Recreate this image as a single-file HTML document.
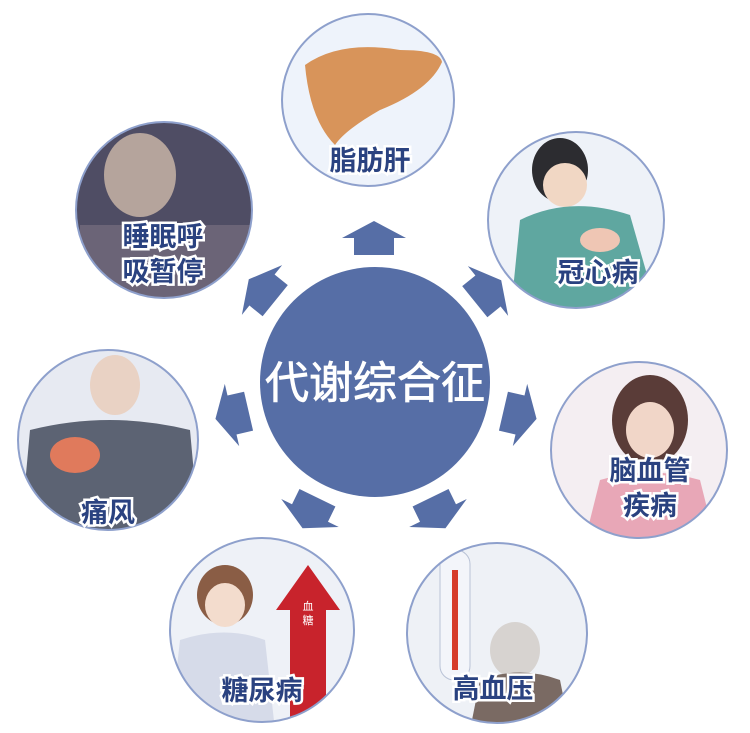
<!DOCTYPE html>
<html><head><meta charset="utf-8"><style>
html,body{margin:0;padding:0;background:#fff;}
svg{display:block}
.lb{font-family:"Liberation Sans","Noto Sans CJK SC",sans-serif;font-size:27px;font-weight:bold;fill:#2a4280;stroke:#fff;stroke-width:5px;paint-order:stroke;text-anchor:middle;}
</style></head><body>
<svg width="750" height="733" viewBox="0 0 750 733" xmlns="http://www.w3.org/2000/svg">
<defs>
<clipPath id="c1"><circle cx="368" cy="100" r="86"/></clipPath>
<clipPath id="c2"><circle cx="164" cy="210" r="88"/></clipPath>
<clipPath id="c3"><circle cx="576" cy="220" r="88"/></clipPath>
<clipPath id="c4"><circle cx="108" cy="440" r="90"/></clipPath>
<clipPath id="c5"><circle cx="639" cy="450" r="88"/></clipPath>
<clipPath id="c6"><circle cx="262" cy="630" r="92"/></clipPath>
<clipPath id="c7"><circle cx="497" cy="633" r="90"/></clipPath>
<polygon id="ar" points="-32,0 0,-17 32,0 20,0 20,17 -20,17 -20,0" fill="#566ea6"/>
</defs>

<circle cx="368" cy="100" r="86" fill="#eef3fb"/>
<g clip-path="url(#c1)">
<path d="M305 65 Q340 40 400 50 Q440 50 442 62 Q430 90 380 110 Q345 130 335 145 Q310 120 305 65Z" fill="#d8945a"/>
</g>
<circle cx="368" cy="100" r="86" fill="none" stroke="#8ea0cc" stroke-width="2"/>
<text class="lb" x="370" y="170">脂肪肝</text>

<circle cx="164" cy="210" r="88" fill="#4f4d64"/>
<g clip-path="url(#c2)">
<ellipse cx="140" cy="175" rx="36" ry="42" fill="#b5a49c"/>
<rect x="80" y="225" width="170" height="80" fill="#6b6477"/>
</g>
<circle cx="164" cy="210" r="88" fill="none" stroke="#8ea0cc" stroke-width="2"/>
<text class="lb" x="163" y="246">睡眠呼</text>
<text class="lb" x="163" y="281">吸暂停</text>

<circle cx="576" cy="220" r="88" fill="#eef2f8"/>
<g clip-path="url(#c3)">
<ellipse cx="560" cy="170" rx="28" ry="32" fill="#2c2c30"/>
<ellipse cx="565" cy="185" rx="22" ry="22" fill="#f1d7c4"/>
<path d="M510 320 L520 220 Q570 195 630 215 L660 320Z" fill="#5fa7a0"/>
<ellipse cx="600" cy="240" rx="20" ry="12" fill="#efc6b4"/>
</g>
<circle cx="576" cy="220" r="88" fill="none" stroke="#8ea0cc" stroke-width="2"/>
<text class="lb" x="598" y="282">冠心病</text>

<circle cx="108" cy="440" r="90" fill="#e7eaf2"/>
<g clip-path="url(#c4)">
<ellipse cx="115" cy="385" rx="25" ry="30" fill="#e9d2c4"/>
<path d="M20 540 L30 430 Q110 410 190 430 L200 540Z" fill="#5c6373"/>
<ellipse cx="75" cy="455" rx="25" ry="18" fill="#e07a5c"/>
</g>
<circle cx="108" cy="440" r="90" fill="none" stroke="#8ea0cc" stroke-width="2"/>
<text class="lb" x="108" y="522">痛风</text>

<circle cx="639" cy="450" r="88" fill="#f4eef2"/>
<g clip-path="url(#c5)">
<ellipse cx="650" cy="420" rx="38" ry="45" fill="#5a3c38"/>
<ellipse cx="650" cy="430" rx="24" ry="28" fill="#f1d6c8"/>
<path d="M580 560 L600 480 Q650 465 700 480 L720 560Z" fill="#e8a7b7"/>
</g>
<circle cx="639" cy="450" r="88" fill="none" stroke="#8ea0cc" stroke-width="2"/>
<text class="lb" x="650" y="480">脑血管</text>
<text class="lb" x="650" y="515">疾病</text>

<circle cx="262" cy="630" r="92" fill="#eef1f7"/>
<g clip-path="url(#c6)">
<ellipse cx="225" cy="595" rx="28" ry="30" fill="#8a5d45"/>
<ellipse cx="225" cy="605" rx="20" ry="22" fill="#f3dccd"/>
<path d="M170 730 L180 640 Q225 625 265 640 L275 730Z" fill="#d6dbe9"/>
<polygon points="308,565 340,610 326,610 326,730 290,730 290,610 276,610" fill="#c8232c"/>
</g>
<circle cx="262" cy="630" r="92" fill="none" stroke="#8ea0cc" stroke-width="2"/>
<text x="308" y="610" font-family="Liberation Sans,Noto Sans CJK SC,sans-serif" font-size="11" fill="#fff" text-anchor="middle">血</text>
<text x="308" y="624" font-family="Liberation Sans,Noto Sans CJK SC,sans-serif" font-size="11" fill="#fff" text-anchor="middle">糖</text>
<text class="lb" x="262" y="700">糖尿病</text>

<circle cx="497" cy="633" r="90" fill="#eef1f6"/>
<g clip-path="url(#c7)">
<rect x="440" y="550" width="30" height="130" rx="14" fill="#f3f5fa" stroke="#b9c2d6"/>
<rect x="452" y="570" width="6" height="100" fill="#d63c2a"/>
<ellipse cx="515" cy="650" rx="25" ry="28" fill="#d7d3d0"/>
<path d="M470 730 L480 680 Q520 665 560 680 L570 730Z" fill="#7a6a63"/>
</g>
<circle cx="497" cy="633" r="90" fill="none" stroke="#8ea0cc" stroke-width="2"/>
<text class="lb" x="493" y="698">高血压</text>

<circle cx="375" cy="382" r="115" fill="#566ea6"/>
<text x="375" y="398" font-family="Liberation Sans,Noto Sans CJK SC,sans-serif" font-size="44" fill="#fff" stroke="#fff" stroke-width="0.8" text-anchor="middle">代谢综合征</text>

<use href="#ar" transform="translate(374,238)"/>
<use href="#ar" transform="translate(262,290) rotate(-51)"/>
<use href="#ar" transform="translate(488,291) rotate(51)"/>
<use href="#ar" transform="translate(232,415) rotate(-103)"/>
<use href="#ar" transform="translate(520,415) rotate(103)"/>
<use href="#ar" transform="translate(310,513) rotate(-154)"/>
<use href="#ar" transform="translate(438,513) rotate(154)"/>
</svg>
</body></html>
